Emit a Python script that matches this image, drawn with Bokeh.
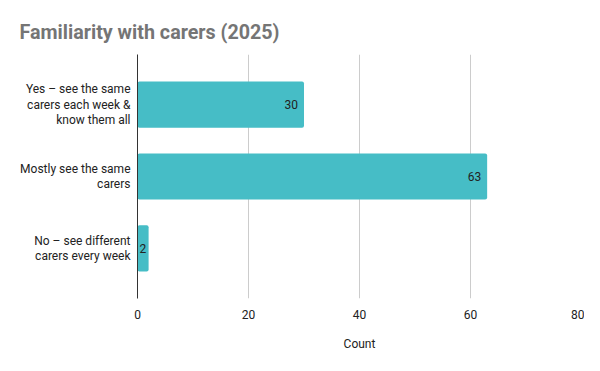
from bokeh.plotting import figure
from bokeh.models import ColumnDataSource, FactorRange, FixedTicker, Title
from bokeh.core.properties import value
from bokeh.embed import file_html
from bokeh.resources import INLINE

categories = [
    "Yes – see the same\ncarers each week &\nknow them all",
    "Mostly see the same\ncarers",
    "No – see different\ncarers every week",
]
counts = [30, 63, 2]
x_ticks = [0, 20, 40, 60, 80]

FONT = "Roboto"
TXT = "#222222"

src = ColumnDataSource(dict(cat=categories, count=counts))

p = figure(
    width=584, height=355,
    y_range=FactorRange(factors=categories[::-1], range_padding=0.131),
    x_range=(0, 80),
    output_backend="svg", toolbar_location=None,
    min_border_left=137, min_border_right=3, min_border_top=54, min_border_bottom=57,
)
p.outline_line_color = None

p.hbar(y="cat", right="count", left=0, height=0.641, source=src,
       fill_color="#46BDC6", line_color=None, border_radius=2)

big = [i for i, c in enumerate(counts) if c >= 5]
small = [i for i, c in enumerate(counts) if c < 5]
src_big = ColumnDataSource(dict(cat=[categories[i] for i in big], x=[counts[i] for i in big],
                                lbl=[str(counts[i]) for i in big]))
src_small = ColumnDataSource(dict(cat=[categories[i] for i in small], x=[0 for i in small],
                                  lbl=[str(counts[i]) for i in small]))
p.text(x="x", y="cat", text="lbl", source=src_big, text_align="right", text_baseline="middle",
       x_offset=-6, text_font=value(FONT), text_font_size="12px", text_color=TXT)
p.text(x="x", y="cat", text="lbl", source=src_small, text_align="left", text_baseline="middle",
       x_offset=2, text_font=value(FONT), text_font_size="12px", text_color=TXT)

# axes
xa = p.xaxis[0]
xa.ticker = FixedTicker(ticks=x_ticks)
xa.axis_line_color = None
xa.major_tick_line_color = None
xa.minor_tick_line_color = None
xa.major_label_text_font = FONT
xa.major_label_text_font_size = "12px"
xa.major_label_text_color = TXT
xa.major_label_standoff = 5
xa.axis_label = "Count"
xa.axis_label_text_font = FONT
xa.axis_label_text_font_size = "12px"
xa.axis_label_text_font_style = "normal"
xa.axis_label_text_color = TXT
xa.axis_label_standoff = 15

ya = p.yaxis[0]
ya.axis_line_color = "#333333"
ya.major_tick_line_color = None
ya.minor_tick_line_color = None
ya.major_label_text_font = FONT
ya.major_label_text_font_size = "12px"
ya.major_label_text_color = TXT
ya.major_label_text_line_height = 1.08
ya.major_label_standoff = 1

p.xgrid.grid_line_color = "#cccccc"
p.ygrid.grid_line_color = None

p.title = Title(text="Familiarity with carers (2025)", align="left", offset=-118,
                text_font=FONT, text_font_size="19.7px", text_font_style="bold",
                text_color="#757575", standoff=21)

open("out.html", "w").write(file_html(p, INLINE))
